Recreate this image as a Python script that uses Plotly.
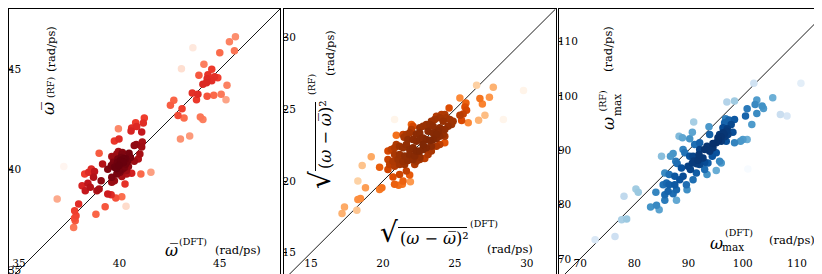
import numpy as np
import plotly.graph_objects as go

# ---------------- data ----------------
# Panel 1: mean frequency  (DFT vs RF)
mean_dft = [45.78, 45.48, 45.73, 45.00, 43.66, 43.09, 44.21, 44.60, 43.96, 44.41, 44.37, 44.74, 44.90,
            44.60, 44.34, 44.16, 45.36, 43.63, 43.91, 43.84, 44.37, 44.70, 45.07, 45.31, 42.54, 42.71,
            43.12, 42.92, 43.22, 44.03, 44.16, 43.04, 43.50,
            41.24, 41.19, 40.81, 40.86, 40.61, 40.58, 41.11, 39.95, 39.98, 39.75, 40.84, 41.14, 40.74,
            41.11, 38.99, 39.87, 40.12, 40.48, 39.62, 39.92, 40.20, 40.08, 39.70, 40.31, 39.98, 39.75,
            40.15, 40.45, 40.74, 40.94, 41.02, 39.42, 39.16, 40.03, 39.87, 40.36, 40.12, 40.61, 41.07,
            41.57, 38.60, 38.76, 38.47, 38.27, 38.71, 39.09, 39.62, 39.75, 39.62, 40.28, 38.14, 38.43,
            38.55, 38.30, 38.88, 38.99, 39.42, 39.59, 39.82, 40.12, 40.33, 37.23, 36.90, 37.97, 37.77,
            37.84, 37.76, 37.72, 38.83, 39.29, 37.80,
            40.05, 40.20, 39.90, 40.10, 40.30, 39.85, 40.00, 40.25, 40.40, 39.70, 40.55, 40.15, 39.95,
            39.60, 40.35]
mean_rf = [46.62, 46.37, 45.92, 45.82, 46.07, 45.02, 45.25, 45.00, 44.70, 44.73, 44.53, 44.62, 44.58,
           44.42, 44.32, 44.25, 44.20, 43.82, 43.75, 43.48, 43.65, 43.70, 43.75, 43.48, 43.20, 43.45,
           43.03, 42.70, 42.57, 42.62, 42.50, 41.53, 41.67,
           42.57, 42.32, 42.33, 42.15, 42.07, 41.92, 41.87, 42.03, 41.53, 41.42, 41.25, 41.37, 41.20,
           41.12, 40.82, 40.78, 40.75, 40.82, 40.65, 40.53, 40.53, 40.42, 40.37, 40.28, 40.20, 40.12,
           40.03, 40.15, 40.42, 40.53, 40.78, 40.02, 40.28, 39.87, 39.78, 39.78, 39.65, 39.82, 39.78,
           39.87, 40.03, 39.90, 39.87, 39.78, 39.62, 39.45, 39.62, 39.45, 39.37, 39.28, 39.20, 39.32,
           39.12, 38.95, 38.95, 39.03, 38.78, 38.75, 38.58, 38.65, 38.17, 40.15, 38.53, 38.28, 37.95,
           37.70, 37.58, 37.12, 37.78, 38.15, 37.45,
           40.45, 40.35, 40.35, 40.60, 40.55, 40.05, 39.95, 40.10, 40.40, 40.60, 40.60, 40.85, 40.90,
           40.20, 39.95]

# Panel 2: standard deviation of frequency
std_dft = [26.51, 27.67, 29.77, 25.35, 26.74, 27.40, 26.91, 25.77, 25.70, 25.81, 25.58, 25.35, 25.47,
           25.93, 26.65, 27.09, 28.37, 24.60, 20.81,
           24.07, 24.30, 23.72, 23.95, 24.42, 24.65, 24.19, 23.60, 23.37, 23.26, 23.49, 23.02, 22.79,
           22.56, 24.88, 24.77, 24.53, 24.30, 23.95, 23.84, 24.19, 23.72, 23.49, 23.14, 22.56, 22.33,
           22.09, 21.98, 21.63, 21.86, 21.40, 21.74, 22.09, 22.33, 22.56, 22.79, 23.02, 23.26, 23.49,
           23.72, 23.95, 24.30, 24.30, 23.95, 23.72, 23.37, 23.02, 22.79, 22.56, 22.33, 22.09, 21.86,
           21.63, 21.40, 21.16, 20.93, 20.81, 20.58, 20.35, 20.81, 21.16, 21.51, 21.86, 22.21, 22.56,
           22.91, 23.14, 22.79, 23.37, 20.35, 20.70, 21.05, 21.40, 21.74, 22.09, 22.33, 22.56, 20.47,
           20.81, 21.16, 21.51, 22.21, 20.35, 20.93, 21.47, 21.98,
           20.70, 21.16, 21.86, 21.40, 20.81, 21.09, 21.35, 21.91, 21.63, 19.77, 19.19, 18.56, 18.26,
           18.79, 18.26, 18.44, 18.19, 17.33, 17.16, 19.77, 19.93]
std_rf = [26.68, 26.54, 26.31, 25.80, 25.75, 25.84, 25.38, 25.45, 25.17, 24.94, 24.68, 24.59, 24.22,
          24.06, 24.24, 24.59, 24.29, 25.10, 24.29,
          24.64, 24.64, 24.52, 24.41, 24.41, 24.29, 24.17, 24.29, 24.17, 23.94, 23.83, 23.94, 23.83,
          23.71, 24.17, 23.94, 23.83, 23.59, 23.71, 23.48, 23.25, 23.25, 23.36, 23.48, 23.36, 23.29,
          23.83, 23.59, 23.25, 23.36, 23.25, 22.90, 22.90, 22.78, 22.90, 23.01, 22.90, 22.83, 22.90,
          22.97, 23.13, 23.13, 22.67, 22.55, 22.43, 22.43, 22.32, 22.20, 22.09, 22.09, 22.32, 22.20,
          22.55, 22.32, 22.43, 22.55, 22.32, 22.20, 22.09, 21.85, 21.85, 21.74, 21.85, 21.74, 21.67,
          21.58, 21.85, 22.55, 22.09, 21.51, 21.39, 21.51, 21.39, 21.44, 21.51, 21.39, 21.51, 21.16,
          21.04, 21.16, 21.16, 21.16, 20.81, 23.20, 23.06, 23.94,
          20.28, 20.46, 20.42, 20.00, 19.77, 19.70, 19.77, 19.95, 20.70, 20.97, 21.69, 21.09, 20.00,
          19.54, 18.72, 18.79, 17.96, 18.19, 17.73, 19.42, 19.54]

# Panel 3: maximum frequency
max_dft = [110.73, 102.04, 97.07, 98.48, 102.59, 100.81, 102.28, 105.53, 103.57, 103.82, 102.59, 100.51,
           101.67, 106.94, 108.16, 100.02, 100.81, 99.59, 98.48, 96.83, 97.44, 96.65, 98.48, 97.87,
           96.34, 97.14, 98.18, 96.34, 97.26, 95.73, 96.65, 95.42, 96.03, 95.11, 96.95, 94.50, 93.77,
           93.89, 93.40, 94.50, 92.97, 93.89, 92.05, 91.93, 92.66, 91.75, 92.97, 90.83, 90.21, 90.70,
           89.91, 90.34, 91.44, 92.05, 93.58, 95.73, 95.11, 96.03, 93.40, 90.83, 89.60, 89.72, 88.99,
           88.38, 87.46, 87.77, 87.15, 85.93, 85.31, 86.23, 85.62, 86.66, 85.01, 87.15, 87.64, 87.89,
           88.99, 89.30, 90.21, 90.70, 88.25, 92.05, 91.13, 85.62, 83.97, 82.99, 84.09, 84.58, 85.62,
           87.77, 80.29, 80.72, 78.09, 77.66, 78.58, 76.43, 72.76, 100.94, 90.95, 88.87, 92.97, 94.38,
           95.11, 87.46, 86.42, 88.68, 86.42,
           96.00, 96.50, 95.50, 97.00, 91.00, 91.50]
max_rf = [102.31, 102.31, 98.86, 99.05, 99.23, 97.63, 98.43, 99.66, 98.12, 97.69, 96.77, 96.28,
          94.74, 96.58, 96.28, 91.97, 91.97, 91.66, 91.35, 95.78, 95.54, 95.05, 95.66, 94.74,
          94.12, 93.94, 93.32, 93.20, 92.89, 92.89, 92.46, 92.28, 91.66, 91.35, 91.66, 91.23, 94.31,
          92.89, 90.74, 90.43, 90.12, 89.82, 90.12, 89.20, 88.58, 88.15, 87.78, 88.89, 88.89, 87.66,
          87.05, 86.43, 85.82, 87.35, 87.66, 87.97, 86.25, 87.66, 85.51, 84.58, 83.66, 82.74, 85.20,
          84.58, 83.66, 82.74, 82.00, 83.97, 83.66, 82.43, 85.82, 88.89, 88.89, 89.38, 87.97, 87.54,
          90.12, 89.51, 92.09, 93.32, 92.58, 91.35, 91.05, 81.82, 82.25, 79.54, 79.85, 79.05, 80.77,
          80.77, 82.86, 82.25, 81.51, 77.20, 77.32, 74.12, 73.51, 86.55, 95.17, 92.28, 86.43, 88.89,
          89.51, 85.20, 85.51, 86.74, 83.66,
          92.50, 93.00, 91.80, 93.50, 88.00, 87.50]

axis_limits = [[34.5, 48.0], [13.1, 32.0], [66.1, 116.0]]
tick_steps = [5, 5, 10]
tick_starts = [35, 15, 70]

reds = ["#fff5f0", "#fee0d2", "#fcbba1", "#fc9272", "#fb6a4a", "#ef3b2c", "#cb181d", "#a50f15", "#67000d"]
oranges = ["#fff5eb", "#fee6ce", "#fdd0a2", "#fdae6b", "#fd8d3c", "#f16913", "#d94801", "#a63603", "#7f2704"]
blues = ["#f7fbff", "#deebf7", "#c6dbef", "#9ecae1", "#6baed6", "#4292c6", "#2171b5", "#08519c", "#08306b"]


def kde_density(x, y):
    x = np.asarray(x, float)
    y = np.asarray(y, float)
    n = len(x)
    cov = np.cov(np.vstack([x, y])) * n ** (-2.0 / 6.0)
    inv = np.linalg.inv(cov)
    dx = x[:, None] - x[None, :]
    dy = y[:, None] - y[None, :]
    q = inv[0, 0] * dx * dx + 2 * inv[0, 1] * dx * dy + inv[1, 1] * dy * dy
    return np.exp(-0.5 * q).sum(axis=1)


def scale(cols):
    return [[i / (len(cols) - 1), c] for i, c in enumerate(cols)]


W, H = 822, 274
domains_x = [[1 / W, 272 / W], [275.6 / W, 547.6 / W], [551 / W, 821.5 / W]]
domain_y = [2 / H, 273 / H]

fig = go.Figure()
panels = [(mean_dft, mean_rf, reds), (std_dft, std_rf, oranges), (max_dft, max_rf, blues)]
for i, (xs, ys, cols) in enumerate(panels):
    xs = np.asarray(xs)
    ys = np.asarray(ys)
    d = np.log(kde_density(xs, ys))
    order = np.argsort(d)
    ax = "" if i == 0 else str(i + 1)
    lo, hi = axis_limits[i]
    fig.add_trace(go.Scatter(x=[lo, hi], y=[lo, hi], mode="lines",
                             line=dict(color="black", width=0.9),
                             xaxis="x" + ax, yaxis="y" + ax, showlegend=False, hoverinfo="skip"))
    fig.add_trace(go.Scatter(x=xs[order], y=ys[order], mode="markers",
                             marker=dict(size=7.5, color=d[order], colorscale=scale(cols),
                                         line=dict(width=0)),
                             xaxis="x" + ax, yaxis="y" + ax, showlegend=False))
    common = dict(range=axis_limits[i], showgrid=False, zeroline=False, showline=True, mirror=True,
                  linecolor="black", linewidth=1, ticks="inside", ticklen=3, tickcolor="black",
                  ticklabelposition="inside", ticklabeloverflow="allow",
                  tick0=tick_starts[i], dtick=tick_steps[i],
                  tickfont=dict(family="DejaVu Serif", size=10.5, color="black"))
    fig.layout["xaxis" + ax] = dict(domain=domains_x[i], anchor="y" + ax, ticklabelstandoff=7, **common)
    fig.layout["yaxis" + ax] = dict(domain=domain_y, anchor="x" + ax, ticklabelstandoff=-5, **common)

FONT = dict(family="DejaVu Serif", size=11.5, color="black")


def ann(text, px, py, angle=0, size=11.5):
    f = dict(FONT)
    f["size"] = size
    fig.add_annotation(text=text, x=px / W, y=1 - py / H, xref="paper", yref="paper",
                       showarrow=False, textangle=angle, font=f, xanchor="center", yanchor="middle")


def bar(x0, y0, x1, y1):
    fig.add_shape(type="line", xref="paper", yref="paper", x0=x0 / W, y0=1 - y0 / H,
                  x1=x1 / W, y1=1 - y1 / H, line=dict(color="black", width=1))


OMB = "<i>ω\u0305</i>"
OM = "<i>ω</i>"
RADICAND = "(<i>ω</i> − " + OMB + ")²"

# panel 1
ann(OMB, 163.5, 242, size=16)
ann("(DFT)", 185, 233, size=9.5)
ann("(rad/ps)", 230, 242)
ann(OMB, 41, 101, -90, size=16)
ann("(RF)", 42, 80, -90, size=9.5)
ann("(rad/ps)", 43, 41, -90)

# panel 2
ann("√", 380.5, 224.5, size=28)
ann(RADICAND, 426, 230, size=16)
bar(390, 219.5, 459, 219.5)
ann("(DFT)", 476, 215, size=9.5)
ann("(rad/ps)", 502, 241)
ann("√", 312.5, 172.5, -90, size=28)
ann(RADICAND, 318, 127, -90, size=16)
bar(307.5, 163, 307.5, 94)
ann("(RF)", 303, 77, -90, size=9.5)
ann("(rad/ps)", 322, 45, -90)

# panel 3
ann(OM, 708, 235, size=16)
ann("max", 724.5, 239, size=10.5)
ann("(DFT)", 730.5, 224.5, size=9.5)
ann("(rad/ps)", 783.5, 232)
ann(OM, 601, 116, -90, size=16)
ann("max", 608.5, 97.5, -90, size=10.5)
ann("(RF)", 594, 93.5, -90, size=9.5)
ann("(rad/ps)", 600, 41, -90)

fig.update_layout(width=W, height=H, margin=dict(l=0, r=0, t=0, b=0),
                  paper_bgcolor="white", plot_bgcolor="white", showlegend=False)
fig.write_html("out.html")
